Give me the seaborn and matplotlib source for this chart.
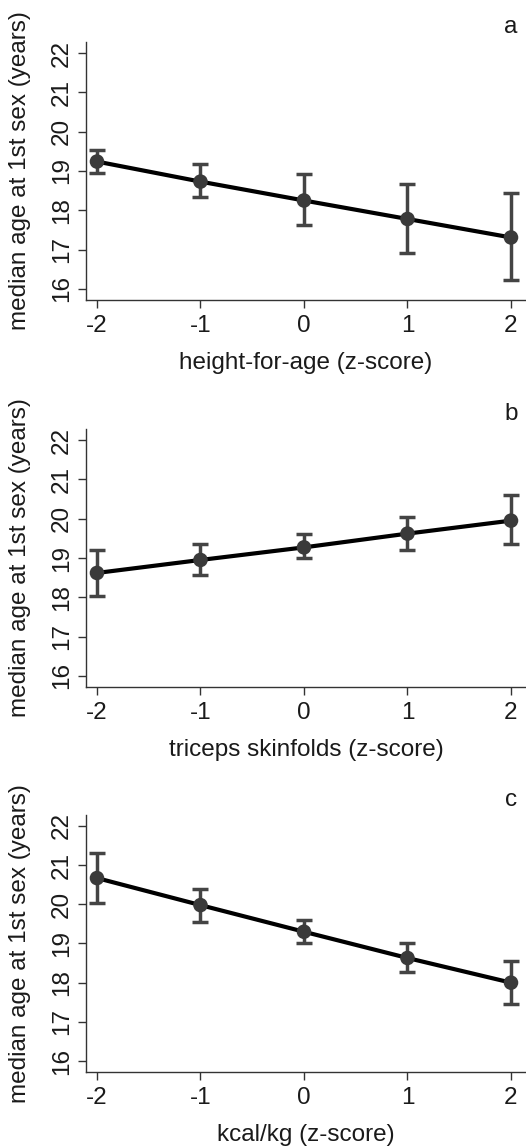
import numpy as np
import pandas as pd
import matplotlib
matplotlib.use("Agg")
import matplotlib.pyplot as plt
import seaborn as sns

# %% Data
z_scores = [-2, -1, 0, 1, 2]

height_med = [19.24, 18.73, 18.25, 17.78, 17.31]
height_lo = [18.94, 18.33, 17.62, 16.92, 16.23]
height_hi = [19.54, 19.17, 18.92, 18.66, 18.43]

skin_med = [18.62, 18.95, 19.27, 19.62, 19.95]
skin_lo = [18.04, 18.57, 19.00, 19.21, 19.35]
skin_hi = [19.21, 19.35, 19.60, 20.04, 20.61]

kcal_med = [20.67, 19.98, 19.30, 18.63, 18.00]
kcal_lo = [20.03, 19.56, 19.00, 18.28, 17.45]
kcal_hi = [21.32, 20.39, 19.60, 19.02, 18.56]

panels = [
    ("a", "height-for-age (z-score)", height_med, height_lo, height_hi),
    ("b", "triceps skinfolds (z-score)", skin_med, skin_lo, skin_hi),
    ("c", "kcal/kg (z-score)", kcal_med, kcal_lo, kcal_hi),
]

# %% Style
sns.set_style("ticks")
plt.rcParams['font.family'] = ['Liberation Sans', 'DejaVu Sans']
txt_col = '#1a1a1a'
axis_col = '#333333'
bar_col = '#444444'
fs = 17.5

W, H = 526, 1147
fig = plt.figure(figsize=(W / 100, H / 100), dpi=100)

# axes boxes in pixels: (left, top, right, bottom)
boxes = [(86, 42, 526, 300), (86, 429, 526, 687), (86, 815, 526, 1072)]

for (letter, xlabel, med, lo, hi), (l, t, r, b) in zip(panels, boxes):
    ax = fig.add_axes([l / W, (H - b) / H, (r - l) / W, (b - t) / H])
    df = pd.DataFrame({'z': z_scores, 'med': med, 'lo': lo, 'hi': hi})

    ax.errorbar(df['z'], df['med'],
                yerr=[df['med'] - df['lo'], df['hi'] - df['med']],
                fmt='none', ecolor=bar_col, elinewidth=2.5, capsize=5.8,
                capthick=2.5, zorder=2)
    sns.lineplot(data=df, x='z', y='med', color='black', linewidth=3,
                 ax=ax, zorder=3)
    sns.scatterplot(data=df, x='z', y='med', color='#3a3a3a', s=110,
                    edgecolor='none', ax=ax, zorder=4)

    ax.set_xlim(-2.106, 2.145)
    ax.set_ylim(15.72, 22.28)
    ax.set_xticks(z_scores)
    ax.set_xticklabels([str(v) for v in z_scores])
    ax.set_yticks(range(16, 23))
    ax.tick_params(axis='both', labelsize=fs, length=5.5, width=1,
                   color=axis_col, labelcolor=txt_col)
    ax.tick_params(axis='x', pad=5)
    ax.tick_params(axis='y', labelrotation=90, pad=4)
    for lab in ax.get_yticklabels():
        lab.set_va('center')
    ax.set_xlabel(xlabel, fontsize=fs, labelpad=11, color=txt_col)
    ax.set_ylabel("median age at 1st sex (years)", fontsize=fs, labelpad=14,
                  color=txt_col)
    ax.spines[['top', 'right']].set_visible(False)
    ax.spines[['left', 'bottom']].set_color(axis_col)
    ax.spines[['left', 'bottom']].set_linewidth(1)
    ax.text(0.966, 1.058, letter, transform=ax.transAxes, fontsize=fs,
            ha='center', va='center', color=txt_col)

fig.savefig("out.png", dpi=100, facecolor='white')
